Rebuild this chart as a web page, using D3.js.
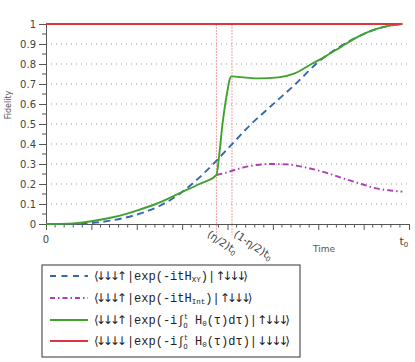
<!DOCTYPE html>
<html>
<head>
<meta charset="utf-8">
<script src="https://cdn.jsdelivr.net/npm/d3@7"></script>
<style>
  body { margin: 0; background: #fff; }
</style>
</head>
<body>
<script>
"use strict";
// time in units where t0 = 5*pi/2
const t0 = 7.854;
const tHalf = 3.755;        // (eta/2) t0
const tOther = t0 - tHalf;  // (1-eta/2) t0

const blueT = [0, 0.5, 1, 1.5, 2, 2.5, 3, 3.5, 4, 4.5, 5, 5.5, 6, 6.5, 7, 7.5, 7.854];
const blueV = [0, 0, 0.005, 0.02, 0.047, 0.09, 0.16, 0.258, 0.375, 0.495, 0.598, 0.7, 0.81, 0.89, 0.95, 0.988, 1];

const greenT = [0, 0.5, 1, 1.5, 2, 2.42, 3, 3.38, 3.755, 3.82, 3.89, 3.95, 4.01, 4.05, 4.09,
                4.4, 4.68, 5.12, 5.48, 5.85, 6.15, 6.51, 6.88, 7.25, 7.61, 7.854];
const greenV = [0, 0.002, 0.014, 0.035, 0.067, 0.1, 0.16, 0.2, 0.245, 0.35, 0.5, 0.6, 0.68, 0.725, 0.738,
                0.732, 0.728, 0.733, 0.753, 0.8, 0.837, 0.887, 0.937, 0.973, 0.993, 1];

const purpleT = [3.755, 3.91, 4.27, 4.64, 4.97, 5.3, 5.63, 5.96, 6.29, 6.62, 6.95, 7.28, 7.61, 7.854];
const purpleV = [0.245, 0.253, 0.278, 0.295, 0.3, 0.298, 0.287, 0.27, 0.248, 0.223, 0.2, 0.178, 0.167, 0.162];

const redT = [0, t0];
const redV = [1, 1];

const yTicks = [0, 0.1, 0.2, 0.3, 0.4, 0.5, 0.6, 0.7, 0.8, 0.9, 1];
const gridTicks = [0.1, 0.2, 0.3, 0.4, 0.5, 0.6, 0.7, 0.8, 0.9];

const sans = "DejaVu Sans, sans-serif";
const mono = "Liberation Mono, monospace";

const svg = d3.select("body").append("svg")
    .attr("width", 415)
    .attr("height", 362)
    .style("font-family", sans);

const x = d3.scaleLinear().domain([0, 8]).range([46, 409]);
const y = d3.scaleLinear().domain([0, 1]).range([224, 24]);

// dotted grid
svg.append("g").selectAll("line")
    .data(gridTicks).enter().append("line")
    .attr("x1", x(0)).attr("x2", x(7.95))
    .attr("y1", d => y(d)).attr("y2", d => y(d))
    .attr("stroke", "#999").attr("stroke-width", 1)
    .attr("stroke-dasharray", "1,4");

// vertical markers
svg.append("g").selectAll("line")
    .data([tHalf, tOther]).enter().append("line")
    .attr("x1", d => x(d)).attr("x2", d => x(d))
    .attr("y1", y(1)).attr("y2", y(0) + 11)
    .attr("stroke", "#f3a0a0").attr("stroke-width", 1)
    .attr("stroke-dasharray", "2,1");

// axes
const yAxis = d3.axisLeft(y).tickValues(yTicks).tickSize(7).tickPadding(3)
    .tickFormat(d => d === 0 || d === 1 ? d3.format("d")(d) : d3.format(".1f")(d));
const gy = svg.append("g").attr("transform", `translate(${x(0)},0)`).call(yAxis);
gy.append("g").selectAll("line")
    .data(d3.range(0.05, 1, 0.1)).enter().append("line")
    .attr("x1", -4).attr("x2", 0)
    .attr("y1", d => y(d)).attr("y2", d => y(d))
    .attr("stroke", "#555");

const xAxis = d3.axisBottom(x).tickValues(d3.range(0, 9)).tickSize(6).tickFormat("");
const gx = svg.append("g").attr("transform", `translate(0,${y(0)})`).call(xAxis);
gx.append("g").selectAll("line")
    .data(d3.range(0, 8, 0.2).filter(d => Math.abs(d - Math.round(d)) > 0.01)).enter().append("line")
    .attr("x1", d => x(d)).attr("x2", d => x(d))
    .attr("y1", 0).attr("y2", 3.5)
    .attr("stroke", "#555");

[gx, gy].forEach(g => {
  g.select(".domain").attr("stroke", "#555");
  g.selectAll(".tick line").attr("stroke", "#555");
  g.selectAll("text").attr("fill", "#444").attr("font-size", 10)
    .attr("font-family", sans);
});

// x tick labels
svg.append("text").attr("x", x(0)).attr("y", 243)
    .attr("text-anchor", "middle").attr("font-size", 10).attr("fill", "#444").text("0");
const t0lab = svg.append("text").attr("x", x(t0) - 3).attr("y", 245)
    .attr("font-size", 11).attr("fill", "#444");
t0lab.append("tspan").text("t");
t0lab.append("tspan").attr("font-size", 7).attr("dy", 2).text("0");

function rotLabel(xp, main) {
  const t = svg.append("text")
      .attr("transform", `translate(${xp},236) rotate(34)`)
      .attr("font-size", 10.5).attr("fill", "#444");
  t.append("tspan").text(main);
  t.append("tspan").attr("font-size", 7).attr("dy", 2).text("0");
}
rotLabel(x(tHalf) - 10, "(\u03b7/2)t");
rotLabel(x(tOther) + 1, "(1-\u03b7/2)t");

svg.append("text").attr("x", 324).attr("y", 252)
    .attr("text-anchor", "middle").attr("font-size", 9).attr("fill", "#555").text("Time");
svg.append("text").attr("transform", "translate(11,105) rotate(-90)")
    .attr("text-anchor", "middle").attr("font-size", 8).attr("fill", "#555").text("Fidelity");

// curves
const series = [
  { t: purpleT, v: purpleV, color: "#b03cb4", dash: "6,3,1.5,3" },
  { t: blueT, v: blueV, color: "#3567b0", dash: "7,4.5" },
  { t: greenT, v: greenV, color: "#3fa22d", dash: null },
  { t: redT, v: redV, color: "#e0343f", dash: null }
];
const line = d3.line().x(d => x(d[0])).y(d => y(d[1])).curve(d3.curveMonotoneX);
svg.append("g").selectAll("path")
    .data(series).enter().append("path")
    .attr("d", s => line(s.t.map((t, i) => [t, s.v[i]])))
    .attr("fill", "none")
    .attr("stroke", s => s.color)
    .attr("stroke-width", 1.9)
    .attr("stroke-dasharray", s => s.dash);

// legend
const leg = svg.append("g");
leg.append("rect").attr("x", 42).attr("y", 265).attr("width", 258).attr("height", 92)
    .attr("fill", "#fff").attr("stroke", "#333").attr("stroke-width", 1);

const legItems = [
  { color: "#3567b0", dash: "6,5.5", bra: "\u27e8\u2193\u2193\u2193\u2191", op: "exp(-itH", sub: "XY", ket: "\u2191\u2193\u2193\u2193\u27e9", integral: false },
  { color: "#b03cb4", dash: "5,3,1.5,3", bra: "\u27e8\u2193\u2193\u2193\u2191", op: "exp(-itH", sub: "Int", ket: "\u2191\u2193\u2193\u2193\u27e9", integral: false },
  { color: "#3fa22d", dash: null, bra: "\u27e8\u2193\u2193\u2193\u2191", op: "exp(-i\u222b", sub: "", ket: "\u2191\u2193\u2193\u2193\u27e9", integral: true },
  { color: "#e0343f", dash: null, bra: "\u27e8\u2193\u2193\u2193\u2193", op: "exp(-i\u222b", sub: "", ket: "\u2193\u2193\u2193\u2193\u27e9", integral: true }
];
const legY = [276, 298, 320, 341];
legItems.forEach((d, i) => {
  const yy = legY[i];
  leg.append("line").attr("x1", 50).attr("x2", 88).attr("y1", yy).attr("y2", yy)
      .attr("stroke", d.color).attr("stroke-width", 1.9)
      .attr("stroke-dasharray", d.dash);
  const tx = leg.append("text").attr("x", 94).attr("y", yy + 4)
      .attr("font-size", 12).attr("fill", "#222");
  const arrows = (sel, s) => sel.append("tspan").style("font-family", sans)
      .style("letter-spacing", "-3px").attr("font-size", 12).text(s);
  const m = (sel, s) => sel.append("tspan").style("font-family", mono)
      .style("letter-spacing", "0px").text(s);
  arrows(tx, d.bra);
  m(tx, "|" + d.op).attr("dx", 3);
  if (!d.integral) {
    m(tx, d.sub).attr("font-size", 7.5).attr("dy", 2);
    m(tx, ")|").attr("dy", -2);
    arrows(tx, d.ket);
  } else {
    tx.append("tspan").attr("font-size", 7).attr("dy", -5).text("t");
    tx.append("tspan").attr("font-size", 7).attr("dx", -4).attr("dy", 9).text("0");
    m(tx, " H").attr("dy", -4);
    m(tx, "0").attr("font-size", 7.5).attr("dy", 2);
    m(tx, "(\u03c4)d\u03c4)|").attr("dy", -2);
    arrows(tx, d.ket);
  }
});
</script>
</body>
</html>
